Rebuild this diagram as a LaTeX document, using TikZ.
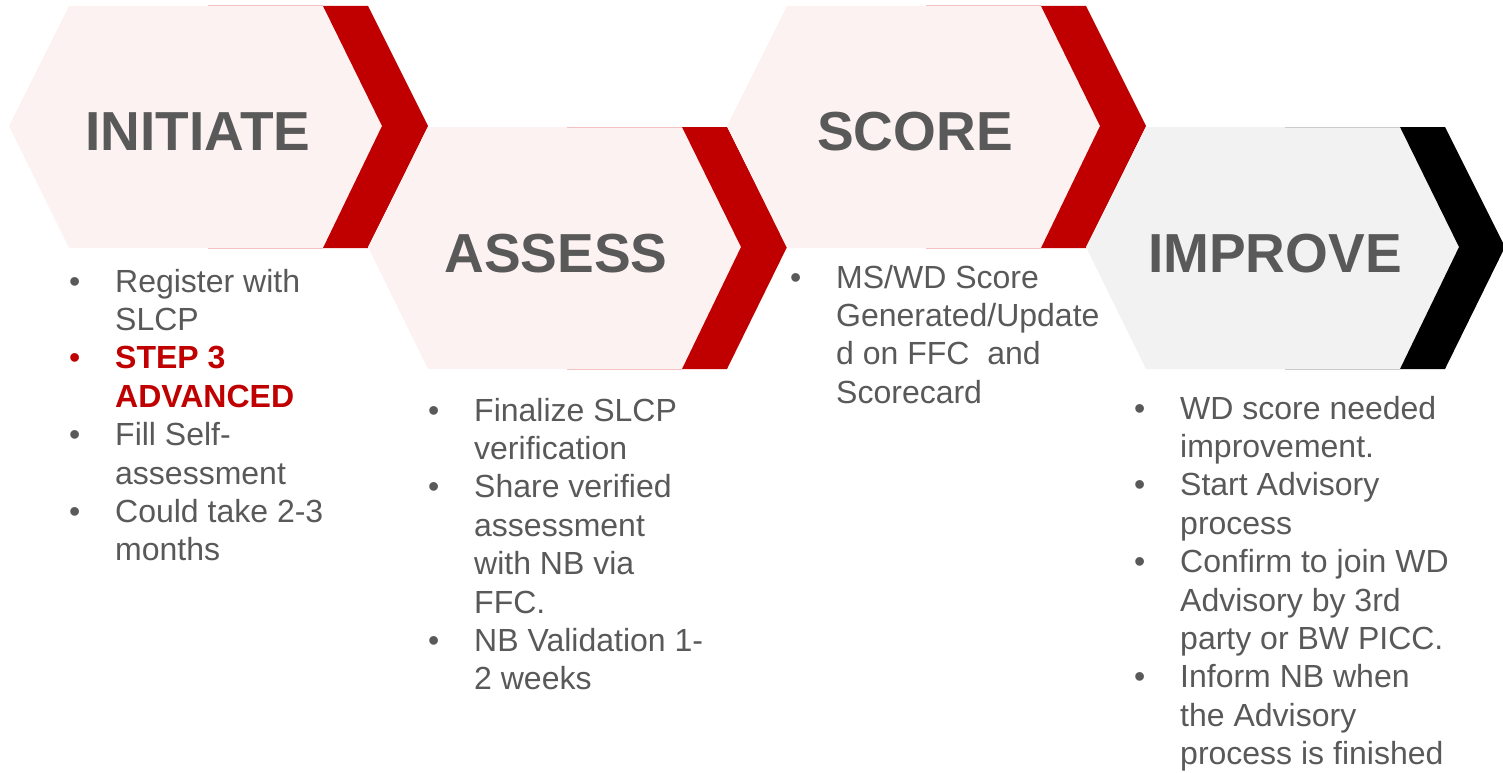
\documentclass[tikz,border=0pt]{standalone}
\usepackage{fontspec}
\setmainfont{Liberation Sans}
\usepackage{array}
\usepackage{xcolor}
\usetikzlibrary{positioning}

\definecolor{pinkfill}{HTML}{FDF2F2}
\definecolor{greyfill}{HTML}{F2F2F2}
\definecolor{edgepink}{HTML}{F4C4C4}
\definecolor{edgegrey}{HTML}{CCCCCC}
\definecolor{chevred}{HTML}{C00000}
\definecolor{textgrey}{HTML}{595959}

\newenvironment{stagelist}{\begin{tabular}[t]{@{}wl{46bp}@{}l@{}}}{\end{tabular}}

\tikzset{
    title/.style={font=\fontsize{55bp}{66bp}\selectfont\bfseries, text=textgrey, inner sep=0pt, anchor=base},
    list/.style={font=\fontsize{32bp}{38.4bp}\selectfont, text=textgrey, inner sep=0pt, anchor=base west}
}

\begin{document}
\begin{tikzpicture}[x=1bp, y=-1bp]
    \useasboundingbox (0,0) rectangle (1503,772);
    \foreach \dx/\dy/\body/\edge/\chev in {0/0/pinkfill/edgepink/chevred, 359/121/pinkfill/edgepink/chevred, 718/0/pinkfill/edgepink/chevred, 1077/121/greyfill/edgegrey/black} {
        \begin{scope}[shift={(\dx,\dy)}]
            \fill[\body] (9,126) -- (69,6) -- (323,6) -- (382,126) -- (323,248) -- (69,248) -- cycle;
            \draw[\edge, line width=1bp] (208,6) -- (323,6) (208,248) -- (323,248);
            \fill[\chev] (323,6) -- (368,6) -- (428,126) -- (368,248) -- (323,248) -- (382,126) -- cycle;
        \end{scope}
    }
    \node[title] (init) at (198,150) {INITIATE};
    \node[title] (assess) at (556,272) {ASSESS};
    \node[title] (score) at (915,150) {SCORE};
    \node[title] (improve) at (1275,272) {IMPROVE};
    \node[list] (initlist) at (69,292) {\begin{stagelist}
        \textbullet & Register with\\
        & SLCP\\
        \textcolor{chevred}{\textbullet} & \textcolor{chevred}{\bfseries STEP 3}\\
        & \textcolor{chevred}{\bfseries ADVANCED}\\
        \textbullet & Fill Self-\\
        & assessment\\
        \textbullet & Could take 2-3\\
        & months
    \end{stagelist}};
    \node[list] (assesslist) at (428,421) {\begin{stagelist}
        \textbullet & Finalize SLCP\\
        & verification\\
        \textbullet & Share verified\\
        & assessment\\
        & with NB via\\
        & FFC.\\
        \textbullet & NB Validation 1-\\
        & 2 weeks
    \end{stagelist}};
    \node[list] (scorelist) at (790,288) {\begin{stagelist}
        \textbullet & MS/WD Score\\
        & Generated/Update\\
        & d on FFC\ \ and\\
        & Scorecard
    \end{stagelist}};
    \node[list] (improvelist) at (1134,419) {\begin{stagelist}
        \textbullet & WD score needed\\
        & improvement.\\
        \textbullet & Start Advisory\\
        & process\\
        \textbullet & Confirm to join WD\\
        & Advisory by 3rd\\
        & party or BW PICC.\\
        \textbullet & Inform NB when\\
        & the Advisory\\
        & process is finished
    \end{stagelist}};
\end{tikzpicture}
\end{document}
